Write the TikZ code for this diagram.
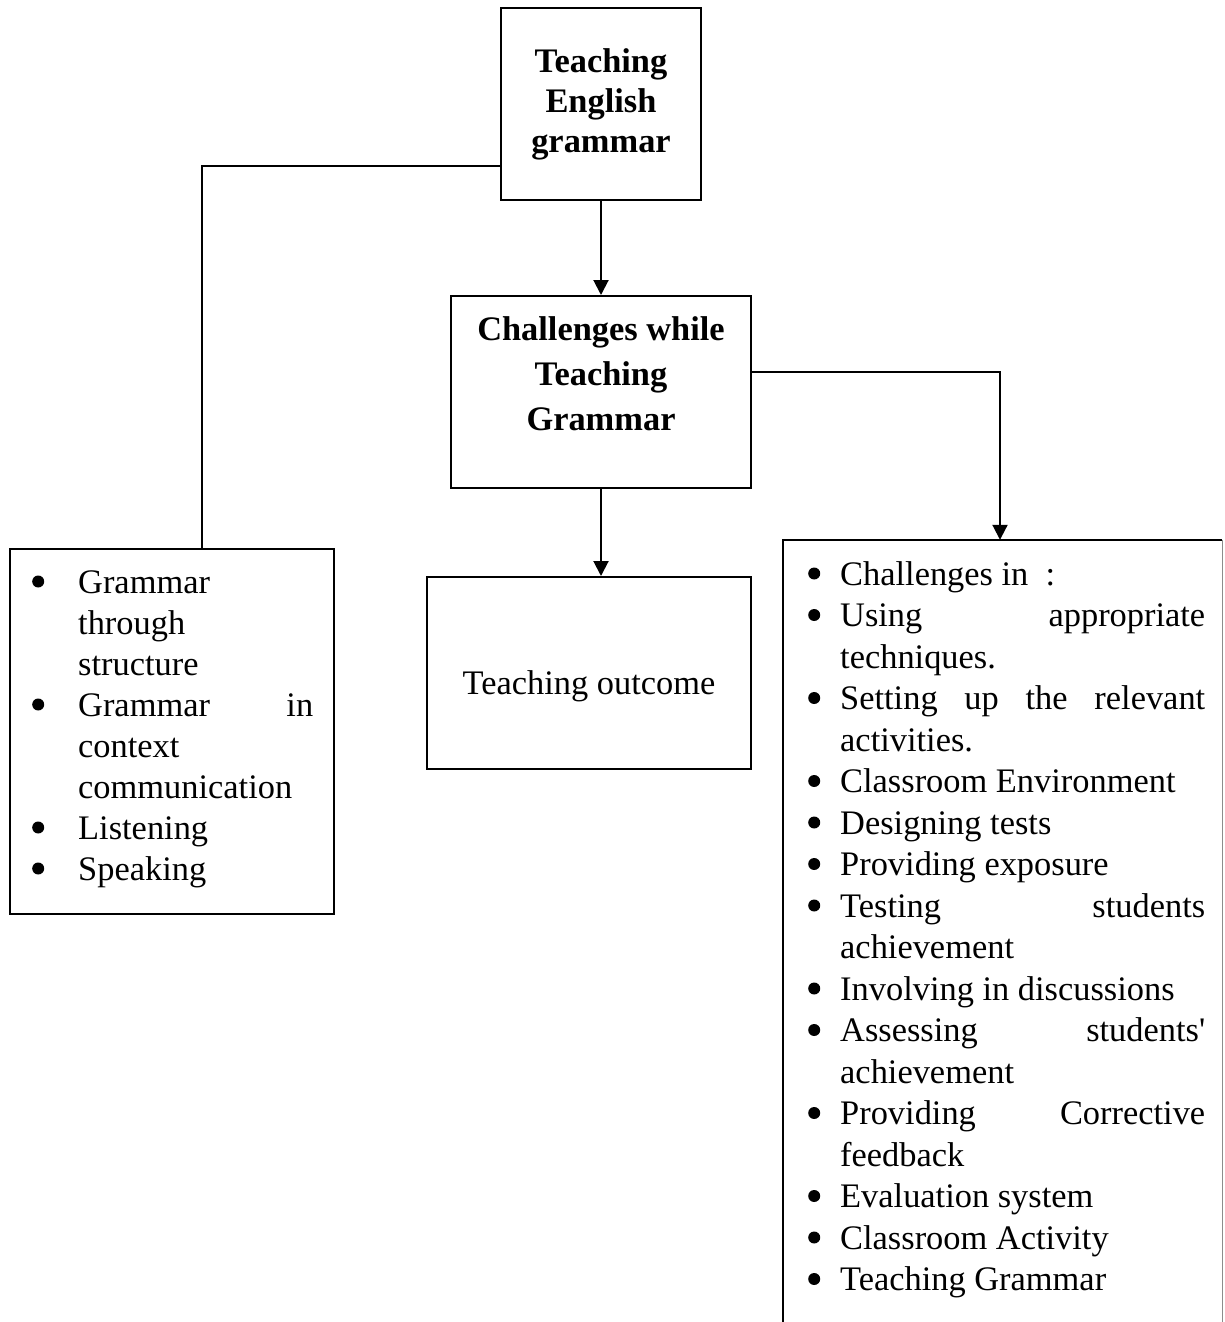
\documentclass[tikz,border=0pt]{standalone}
\usepackage{fontspec}
\setmainfont{Liberation Serif}
\usetikzlibrary{arrows.meta}
\newcommand{\bigbul}{\tikz[x=1pt,y=1pt,baseline=-11.5pt]\fill[black] (0,0) circle (6pt);}
\begin{document}
\begin{tikzpicture}[x=1pt,y=-1pt,
  boxst/.style={draw, line width=2pt, inner sep=0pt},
  txt/.style={inner sep=0pt, anchor=base},
  conn/.style={line width=2pt},
  arr/.style={line width=2pt, -{Triangle[width=15pt,length=15pt]}}]
\useasboundingbox (0,0) rectangle (1224,1322);
% boxes
\node[boxst, minimum width=200pt, minimum height=192pt] (top) at (601,104) {};
\node[boxst, minimum width=300pt, minimum height=192pt] (mid) at (601,392) {};
\node[boxst, minimum width=324pt, minimum height=365pt] (lbox) at (172,731.5) {};
\node[boxst, minimum width=324pt, minimum height=192pt] (out) at (589,673) {};
\node[inner sep=0pt, minimum width=439pt, minimum height=782pt] (rbox) at (1002.5,931) {};
\draw[line width=2pt] (rbox.south west) -- (rbox.north west) -- (rbox.north east);
\draw[line width=0.8pt, black!45] (rbox.north east) -- (rbox.south east);
% headings
\node[txt] (ttext) at (601,72) {\fontsize{34.4}{40.5}\selectfont\bfseries
  \begin{tabular}[t]{@{}c@{}}Teaching\\English\\grammar\end{tabular}};
\node[txt] (mtext) at (601,340) {\fontsize{34.4}{45}\selectfont\bfseries
  \begin{tabular}[t]{@{}c@{}}Challenges while\\Teaching\\Grammar\end{tabular}};
\node[txt] (otext) at (589,694) {\fontsize{34.4}{41}\selectfont Teaching outcome};
% left list
\node[inner sep=0pt, anchor=base west] (ltext) at (32,593) {\fontsize{34.4}{41}\selectfont
\begin{tabular}[t]{@{}p{46pt}@{}l@{}}
\bigbul & Grammar\\
 & through\\
 & structure\\
\bigbul & \makebox[235pt][s]{Grammar in}\\
 & context\\
 & communication\\
\bigbul & Listening\\
\bigbul & Speaking
\end{tabular}};
% right list
\node[inner sep=0pt, anchor=base west] (rtext) at (808,585) {\fontsize{34.4}{41.5}\selectfont
\begin{tabular}[t]{@{}p{32pt}@{}l@{}}
\bigbul & Challenges in\ \ :\\
\bigbul & \makebox[365pt][s]{Using appropriate}\\
 & techniques.\\
\bigbul & \makebox[365pt][s]{Setting up the relevant}\\
 & activities.\\
\bigbul & Classroom Environment\\
\bigbul & Designing tests\\
\bigbul & Providing exposure\\
\bigbul & \makebox[365pt][s]{Testing students}\\
 & achievement\\
\bigbul & Involving in discussions\\
\bigbul & \makebox[365pt][s]{Assessing students\textquotesingle}\\
 & achievement\\
\bigbul & \makebox[365pt][s]{Providing Corrective}\\
 & feedback\\
\bigbul & Evaluation system\\
\bigbul & Classroom Activity\\
\bigbul & Teaching Grammar
\end{tabular}};
% connectors
\draw[arr] (top.south) -- (mid.north);
\draw[arr] (mid.south) -- (mid.south |- out.north);
\draw[conn] ([yshift=35pt]top.south west) -| ([xshift=30pt]lbox.north);
\draw[arr] ([yshift=20pt]mid.east) -| ([xshift=-2.5pt]rbox.north);
\end{tikzpicture}
\end{document}
